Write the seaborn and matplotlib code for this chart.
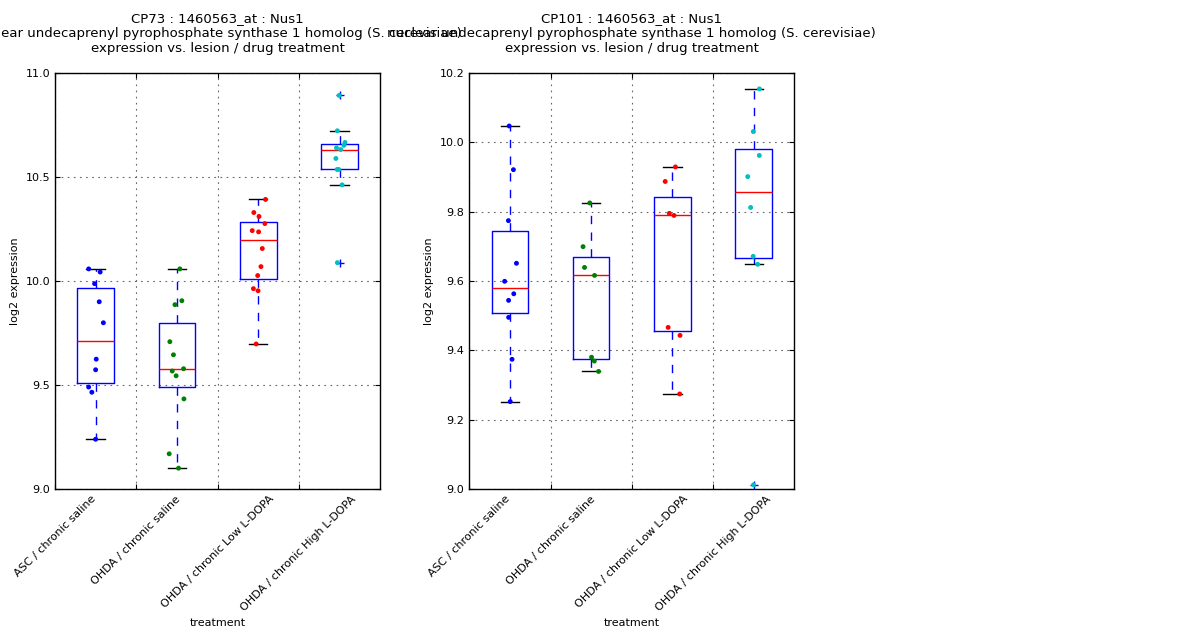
import numpy as np
import pandas as pd
import seaborn as sns
import matplotlib
matplotlib.use("Agg")
import matplotlib.pyplot as plt

# --- data ---
treatments = ["ASC / chronic saline", "OHDA / chronic saline",
              "OHDA / chronic Low L-DOPA", "OHDA / chronic High L-DOPA"]
point_colors = ["blue", "green", "red", "c"]

cp73_asc = [10.058, 10.043, 9.987, 9.900, 9.799, 9.624, 9.573, 9.490, 9.465, 9.239]
cp73_saline = [10.058, 9.905, 9.886, 9.708, 9.645, 9.578, 9.567, 9.544, 9.433, 9.169, 9.100]
cp73_low = [10.392, 10.329, 10.310, 10.276, 10.242, 10.236, 10.156, 10.069, 10.026,
            9.963, 9.953, 9.697]
cp73_high = [10.892, 10.722, 10.666, 10.652, 10.640, 10.632, 10.589, 10.536, 10.536,
             10.462, 10.088]

cp101_asc = [10.047, 9.921, 9.774, 9.651, 9.599, 9.563, 9.544, 9.495, 9.374, 9.252]
cp101_saline = [9.825, 9.699, 9.639, 9.616, 9.380, 9.369, 9.339]
cp101_low = [9.929, 9.887, 9.795, 9.789, 9.466, 9.443, 9.274]
cp101_high = [10.154, 10.031, 9.962, 9.901, 9.812, 9.671, 9.648, 9.012]

gene_desc = "nuclear undecaprenyl pyrophosphate synthase 1 homolog (S. cerevisiae)"
panels = [
    ("CP73 : 1460563_at : Nus1", [cp73_asc, cp73_saline, cp73_low, cp73_high],
     (9.0, 11.0), np.arange(9.0, 11.01, 0.5)),
    ("CP101 : 1460563_at : Nus1", [cp101_asc, cp101_saline, cp101_low, cp101_high],
     (9.0, 10.2), np.arange(9.0, 10.21, 0.2)),
]


def make_frame(groups):
    rows = []
    for name, vals in zip(treatments, groups):
        for v in vals:
            rows.append({"treatment": name, "expr": v})
    return pd.DataFrame(rows)


plt.rcParams.update({
    "font.family": ["DejaVu Sans"],
    "xtick.direction": "in", "ytick.direction": "in",
    "xtick.top": True, "ytick.right": True,
    "xtick.labelsize": 8, "ytick.labelsize": 8,
    "axes.labelsize": 8,
})

fig = plt.figure(figsize=(12, 6.4), dpi=100)
ax_pos = [[0.0458, 0.236, 0.271, 0.65], [0.391, 0.236, 0.271, 0.65]]
np.random.seed(7)

for pos, (probe, groups, ylim, yticks) in zip(ax_pos, panels):
    ax = fig.add_axes(pos)
    df = make_frame(groups)

    sns.boxplot(data=df, x="treatment", y="expr", order=treatments, ax=ax,
                width=0.45, fill=False, whis=1.5,
                boxprops=dict(color="blue", linewidth=1),
                whiskerprops=dict(color="blue", linestyle=(0, (6, 6)), linewidth=1),
                capprops=dict(color="black", linewidth=1),
                medianprops=dict(color="red", linewidth=1),
                flierprops=dict(marker="+", markeredgecolor="blue", markersize=6,
                                linestyle="none"))
    sns.stripplot(data=df, x="treatment", y="expr", order=treatments, ax=ax,
                  hue="treatment", hue_order=treatments, palette=point_colors,
                  jitter=0.1, size=3.5, linewidth=0, legend=False)

    ax.set_xlim(-0.5, 3.5)
    ax.set_ylim(*ylim)
    ax.set_yticks(yticks)
    ax.set_yticklabels([f"{t:.1f}" for t in yticks])
    # the original puts its tick labels half a slot to the left of the boxes
    ax.set_xticks(np.arange(len(treatments)) - 0.5)
    ax.set_xticklabels(treatments, rotation=45, ha="center")
    ax.grid(True, linestyle=(0, (1.5, 4)), color="0.4", linewidth=0.8)
    for s in ax.spines.values():
        s.set_visible(True)
        s.set_linewidth(1)
    ax.set_xlabel("treatment")
    ax.set_ylabel("log2 expression")
    ax.set_title(f"{probe}\n{gene_desc}\nexpression vs. lesion / drug treatment",
                 fontsize=9.5, pad=15)

fig.savefig("out.png", dpi=100)
